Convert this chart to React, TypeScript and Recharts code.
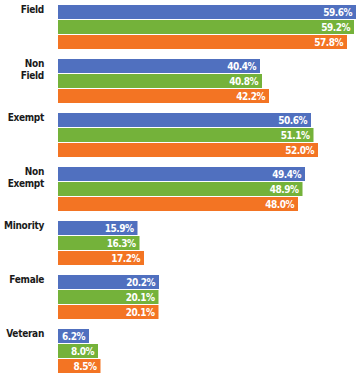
import React from "react";
import { BarChart, Bar, XAxis, YAxis, LabelList } from "recharts";

const categories = ["Field", "Non Field", "Exempt", "Non Exempt", "Minority", "Female", "Veteran"];
const seriesBlue = [59.6, 40.4, 50.6, 49.4, 15.9, 20.2, 6.2];
const seriesGreen = [59.2, 40.8, 51.1, 48.9, 16.3, 20.1, 8.0];
const seriesOrange = [57.8, 42.2, 52.0, 48.0, 17.2, 20.1, 8.5];

const data = categories.map((name, i) => ({
  name,
  blue: seriesBlue[i],
  green: seriesGreen[i],
  orange: seriesOrange[i],
}));

const FONT = "'Liberation Sans Narrow', 'DejaVu Sans', sans-serif";

const CategoryTick = (props: any) => {
  const { y, payload } = props;
  const lines: string[] = String(payload.value).split(" ");
  return (
    <text
      x={44}
      y={y - 14}
      textAnchor="end"
      fontFamily={FONT}
      fontSize={10}
      fontWeight="bold"
      fill="#1a1a1a"
      letterSpacing={-0.3}
      style={{ fontStretch: "condensed" }}
    >
      {lines.map((line, i) => (
        <tspan key={i} x={44} dy={i === 0 ? 0 : 12}>
          {line}
        </tspan>
      ))}
    </text>
  );
};

const fmt = (v: any) => `${Number(v).toFixed(1)}%`;

const labelStyle = {
  fill: "#ffffff",
  fontFamily: FONT,
  fontSize: 10,
  fontWeight: "bold" as const,
  fontStretch: "condensed",
  letterSpacing: -0.5,
};

const App: React.FC = () => {
  return (
    <div style={{ position: "absolute", top: 0, left: 0, width: 357, height: 373, overflow: "hidden", background: "#fff" }}>
      <BarChart
        width={357}
        height={378}
        data={data}
        layout="vertical"
        margin={{ top: 0, right: 1, bottom: 0, left: 0 }}
        barSize={14}
        barGap={1}
      >
        <XAxis type="number" hide domain={[0, 59.6]} />
        <YAxis type="category" dataKey="name" width={58} axisLine={false} tickLine={false} tick={<CategoryTick />} />
        <Bar dataKey="blue" fill="#5070BF" isAnimationActive={false}>
          <LabelList dataKey="blue" position="insideRight" offset={4} formatter={fmt} style={labelStyle} />
        </Bar>
        <Bar dataKey="green" fill="#74B23A" isAnimationActive={false}>
          <LabelList dataKey="green" position="insideRight" offset={4} formatter={fmt} style={labelStyle} />
        </Bar>
        <Bar dataKey="orange" fill="#F37423" isAnimationActive={false}>
          <LabelList dataKey="orange" position="insideRight" offset={4} formatter={fmt} style={labelStyle} />
        </Bar>
      </BarChart>
    </div>
  );
};

export default App;
